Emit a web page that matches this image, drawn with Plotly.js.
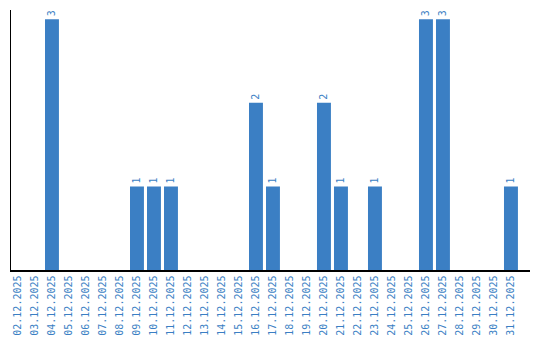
<!DOCTYPE html>
<html>
<head>
<meta charset="utf-8">
<script src="https://cdn.plot.ly/plotly-3.0.1.min.js"></script>
<style>html,body{margin:0;padding:0;background:#fff}#chart{width:540px;height:340px}</style>
</head>
<body>
<div id="chart"></div>
<script>
const dates = ["02.12.2025","03.12.2025","04.12.2025","05.12.2025","06.12.2025","07.12.2025","08.12.2025","09.12.2025","10.12.2025","11.12.2025","12.12.2025","13.12.2025","14.12.2025","15.12.2025","16.12.2025","17.12.2025","18.12.2025","19.12.2025","20.12.2025","21.12.2025","22.12.2025","23.12.2025","24.12.2025","25.12.2025","26.12.2025","27.12.2025","28.12.2025","29.12.2025","30.12.2025","31.12.2025"];
const counts = [0,0,3,0,0,0,0,1,1,1,0,0,0,0,2,1,0,0,2,1,0,1,0,0,3,3,0,0,0,1];
const labels = counts.map(v => v > 0 ? String(v) : "");
const blue = "#3b7fc4";
Plotly.newPlot("chart", [{
  type: "bar",
  x: dates,
  y: counts,
  text: labels,
  textposition: "outside",
  textangle: -90,
  cliponaxis: false,
  textfont: {family: "DejaVu Sans Mono", size: 10, color: blue},
  marker: {color: blue},
  width: 0.82,
  hoverinfo: "none"
}], {
  width: 540, height: 340,
  margin: {l: 11, r: 10, t: 10, b: 70},
  paper_bgcolor: "#fff", plot_bgcolor: "#fff",
  showlegend: false,
  xaxis: {
    type: "category",
    range: [-0.41, 30.12],
    showline: true, linecolor: "#000", linewidth: 1.5,
    ticks: "", tickangle: -90,
    tickfont: {family: "DejaVu Sans Mono", size: 10, color: blue},
    showgrid: false, zeroline: false
  },
  yaxis: {
    range: [0, 3.11],
    showline: true, linecolor: "#000", linewidth: 1.5,
    showticklabels: false, ticks: "",
    showgrid: false, zeroline: false
  }
}, {displayModeBar: false, staticPlot: true});
</script>
</body>
</html>
